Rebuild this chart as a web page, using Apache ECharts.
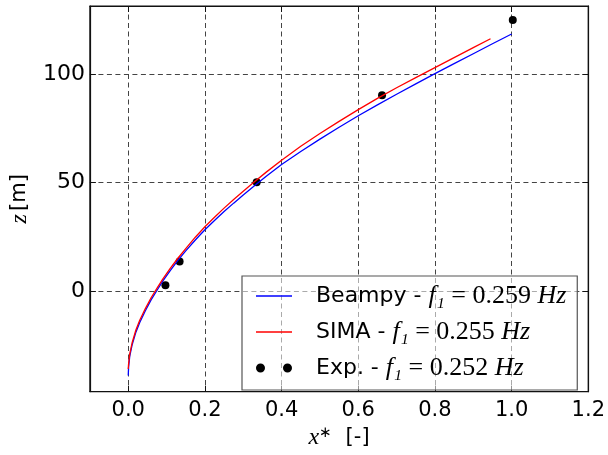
<!DOCTYPE html>
<html>
<head>
<meta charset="utf-8">
<script src="https://cdn.jsdelivr.net/npm/echarts@6/dist/echarts.min.js"></script>
<style>html,body{margin:0;padding:0;background:#fff;}#c{width:608px;height:455px;}</style>
</head>
<body>
<div id="c"></div>
<script>
var xTicks = [0, 0.2, 0.4, 0.6, 0.8, 1.0, 1.2];
var yTicks = [0, 50, 100];

var beampyX = [0, 0.001, 0.004, 0.01, 0.02, 0.03, 0.045, 0.06, 0.074, 0.09, 0.11, 0.13, 0.15, 0.175, 0.2, 0.225, 0.25, 0.275, 0.3, 0.33, 0.36, 0.4, 0.45, 0.5, 0.55, 0.6, 0.65, 0.7, 0.75, 0.8, 0.85, 0.9, 0.95, 1.0];
var beampyZ = [-39, -35, -30, -25, -19, -14.5, -9, -4, 0, 4.5, 9.5, 14.2, 18.5, 23.5, 28.2, 32.5, 36.6, 40.5, 44.2, 48.6, 52.9, 58.3, 64.3, 70, 75.5, 80.8, 85.8, 90.7, 95.5, 100.2, 104.8, 109.4, 114, 118.5];

var simaX = [0, 0.001, 0.004, 0.01, 0.02, 0.03, 0.045, 0.06, 0.074, 0.09, 0.11, 0.13, 0.15, 0.175, 0.2, 0.225, 0.25, 0.275, 0.3, 0.33, 0.36, 0.4, 0.45, 0.5, 0.55, 0.6, 0.65, 0.7, 0.75, 0.8, 0.85, 0.9, 0.945];
var simaZ = [-36, -33.5, -29, -24, -18, -13.5, -8, -3, 1, 5.5, 10.5, 15.2, 19.5, 24.8, 29.6, 34, 38.2, 42.2, 46, 50.5, 54.8, 60.3, 66.7, 72.6, 78.2, 83.6, 88.8, 93.7, 98.4, 103, 107.6, 112.2, 116.3];

var expX = [0.097, 0.134, 0.335, 0.662, 1.003];
var expZ = [2.6, 13.6, 50.1, 90.2, 125];

var seriesNames = ['Beampy', 'SIMA', 'Exp.'];
var freqs = ['0.259', '0.255', '0.252'];

function pairs(xs, ys) { return xs.map(function (x, i) { return [x, ys[i]]; }); }

var chart = echarts.init(document.getElementById('c'));
var sans = 'DejaVu Sans';
var serif = 'Liberation Serif';
var richText = {
  sp: { width: 19, fontSize: 22, lineHeight: 25 },
  a: { fontFamily: sans, fontSize: 22, color: '#000', lineHeight: 25 },
  m: { fontFamily: serif, fontStyle: 'italic', fontSize: 26, color: '#000', lineHeight: 25 },
  e: { fontFamily: serif, fontSize: 26, color: '#000', lineHeight: 25 }
};
var axisRich = {
  a: { fontFamily: sans, fontSize: 21, color: '#000' },
  m: { fontFamily: serif, fontStyle: 'italic', fontSize: 24, color: '#000' },
  sup: { fontFamily: serif, fontSize: 15, color: '#000', padding: [0, 0, 10, 0] }
};

var gridLine = { show: true, lineStyle: { color: '#444', type: [5, 3.5], width: 1 } };
var lineIcon = 'path://M0,0L36,0L36,1.3L0,1.3Z';
var dotsIcon = 'path://M0,4.5a4.5,4.5 0 1,0 9,0a4.5,4.5 0 1,0 -9,0zM27,4.5a4.5,4.5 0 1,0 9,0a4.5,4.5 0 1,0 -9,0z';

var option = {
  backgroundColor: '#fff',
  animation: false,
  grid: { left: 84, right: 19, top: 6, bottom: 58, show: true, borderColor: '#111', borderWidth: 1.2, backgroundColor: 'transparent' },
  xAxis: [{
    type: 'value', min: -0.1, max: 1.2,
    name: '{m|x}{sup|∗}{a|  [-]}', nameLocation: 'middle', nameGap: 28,
    nameTextStyle: { rich: axisRich },
    axisLine: { show: true, onZero: false, lineStyle: { color: '#111', width: 1.2 } },
    axisTick: { show: true, inside: true, length: 6, customValues: xTicks, lineStyle: { color: '#111' } },
    axisLabel: { show: true, customValues: xTicks, margin: 8, fontFamily: sans, fontSize: 21, color: '#000',
      formatter: function (v) { return v.toFixed(1); } },
    splitLine: gridLine
  }, {
    type: 'value', min: -0.1, max: 1.2, position: 'top',
    axisLine: { show: true, onZero: false, lineStyle: { color: '#111', width: 1.2 } },
    axisTick: { show: true, inside: true, length: 6, customValues: xTicks, lineStyle: { color: '#111' } },
    axisLabel: { show: false },
    splitLine: { show: false }
  }],
  yAxis: [{
    type: 'value', min: -46.4, max: 131.4,
    name: '{m|z} {a|[m]}', nameLocation: 'middle', nameGap: 56,
    nameTextStyle: { rich: axisRich },
    axisLine: { show: true, onZero: false, lineStyle: { color: '#111', width: 1.2 } },
    axisTick: { show: true, inside: true, length: 6, customValues: yTicks, lineStyle: { color: '#111' } },
    axisLabel: { show: true, customValues: yTicks, margin: 5, fontFamily: sans, fontSize: 22, color: '#000' },
    splitLine: gridLine
  }, {
    type: 'value', min: -46.4, max: 131.4, position: 'right',
    axisLine: { show: true, onZero: false, lineStyle: { color: '#111', width: 1.2 } },
    axisTick: { show: true, inside: true, length: 6, customValues: yTicks, lineStyle: { color: '#111' } },
    axisLabel: { show: false },
    splitLine: { show: false }
  }],
  legend: {
    orient: 'vertical', left: 242, top: 276,
    padding: [7, 11, 9, 14], itemGap: 10,
    itemWidth: 36, itemHeight: 10, symbolKeepAspect: true,
    backgroundColor: 'rgba(255,255,255,0.55)', borderColor: '#555', borderWidth: 1.2,
    data: [
      { name: seriesNames[0], icon: lineIcon },
      { name: seriesNames[1], icon: lineIcon },
      { name: seriesNames[2], icon: dotsIcon }
    ],
    formatter: function (name) {
      var i = seriesNames.indexOf(name);
      return '{sp| }{a|' + name + ' - }{m|f₁}{e| = ' + freqs[i] + ' }{m|Hz}';
    },
    textStyle: { rich: richText, lineHeight: 25 }
  },
  series: [{
    name: seriesNames[0], type: 'line', data: pairs(beampyX, beampyZ),
    showSymbol: false, symbol: 'none', smooth: false,
    lineStyle: { color: '#0000ff', width: 1.3 }, itemStyle: { color: '#0000ff' }
  }, {
    name: seriesNames[1], type: 'line', data: pairs(simaX, simaZ),
    showSymbol: false, symbol: 'none', smooth: false,
    lineStyle: { color: '#ff0000', width: 1.3 }, itemStyle: { color: '#ff0000' }
  }, {
    name: seriesNames[2], type: 'scatter', data: pairs(expX, expZ),
    symbol: 'circle', symbolSize: 8, itemStyle: { color: '#000', opacity: 1 }
  }]
};
chart.setOption(option);
</script>
</body>
</html>
